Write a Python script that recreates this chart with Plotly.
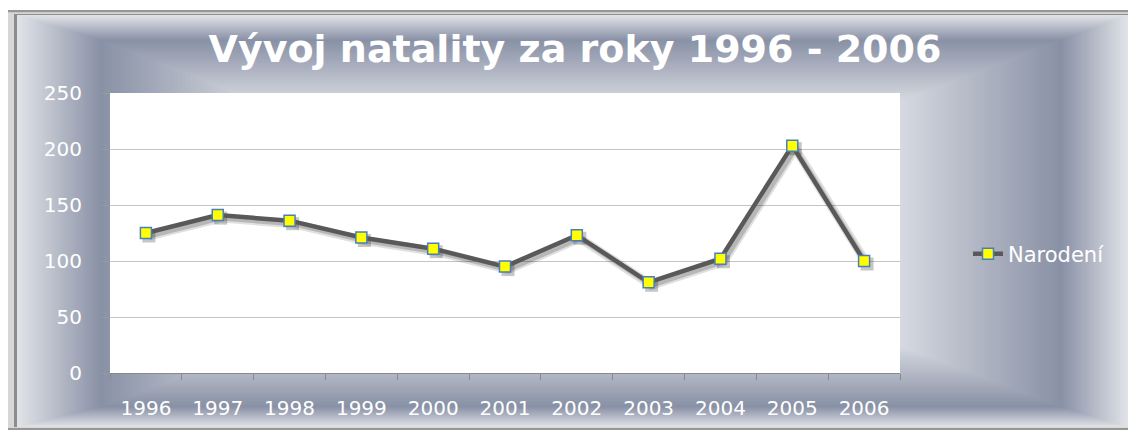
import plotly.graph_objects as go

# ---- data ----
years = ["1996", "1997", "1998", "1999", "2000", "2001", "2002", "2003", "2004", "2005", "2006"]
births = [125, 141, 136, 121, 111, 95, 123, 81, 102, 203, 100]
series_name = "Narodení"
title_text = "Vývoj natality za roky 1996 - 2006"
y_ticks = [0, 50, 100, 150, 200, 250]

# ---- geometry (page pixels; the page body has an 8px margin) ----
OFF = 8
W, H = 1136 - OFF, 433 - OFF
PL, PR, PT, PB = 110, 900, 93, 373          # plot area in page pixels
ML, MT = PL - OFF, PT - OFF
MR, MB = W - (PR - OFF), H - (PB - OFF)
PW, PH = PR - PL, PB - PT


def px(x):
    return (x - PL) / PW


def py(y):
    return (PB - y) / PH


def mix(c1, c2, f):
    f = max(0.0, min(1.0, f))
    return "rgb(%d,%d,%d)" % tuple(round(a + (b - a) * f) for a, b in zip(c1, c2))


LIGHT = (224, 226, 231)
DARK = (137, 145, 166)

shapes = []


def rect(x0, y0, x1, y1, color):
    shapes.append(dict(type="rect", xref="paper", yref="paper",
                       x0=px(x0), x1=px(x1), y0=py(y1), y1=py(y0),
                       fillcolor=color, line=dict(width=0), layer="below"))


# outer border
shapes.append(dict(type="rect", xref="paper", yref="paper",
                   x0=px(5), x1=px(1131), y0=py(429), y1=py(11),
                   fillcolor="rgb(200,200,200)", line=dict(color="rgb(150,150,150)", width=2),
                   layer="below"))
rect(8, 13, 1129, 428, "rgb(215,215,215)")
rect(14, 14, 1128, 427, "rgb(140,140,140)")

# outer bevel strip: light -> dark
O = (17, 15, 1128, 427)
D = (100, 40, 1062, 407)
N = 40
for k in range(N):
    u = k / N
    x0 = O[0] + (D[0] - O[0]) * u
    y0 = O[1] + (D[1] - O[1]) * u
    x1 = O[2] + (D[2] - O[2]) * u
    y1 = O[3] + (D[3] - O[3]) * u
    rect(x0, y0, x1, y1, mix(LIGHT, DARK, u))

# inner path gradient: dark -> light toward the centre
cx, cy = (D[0] + D[2]) / 2, (D[1] + D[3]) / 2
hw, hh = (D[2] - D[0]) / 2, (D[3] - D[1]) / 2
M = 40
t_light = 0.66
for k in range(M + 1):
    t = 1 - (1 - t_light) * k / M
    f = (1 - t) / (1 - t_light)
    rect(cx - hw * t, cy - hh * t, cx + hw * t, cy + hh * t, mix(DARK, (216, 219, 225), f))

# plot area
shapes.append(dict(type="rect", xref="paper", yref="paper", x0=0, x1=1, y0=0, y1=1,
                   fillcolor="white", line=dict(width=0), layer="below"))

fig = go.Figure()

# shadow traces (on shifted, hidden axes x/y)
fig.add_trace(go.Scatter(x=years, y=births, mode="lines", xaxis="x", yaxis="y",
                         line=dict(color="rgba(0,0,0,0.12)", width=9),
                         showlegend=False, hoverinfo="skip"))
fig.add_trace(go.Scatter(x=years, y=births, mode="lines+markers", xaxis="x", yaxis="y",
                         line=dict(color="rgba(0,0,0,0.18)", width=5),
                         marker=dict(symbol="square", size=13, color="rgba(0,0,0,0.22)",
                                     line=dict(width=0)),
                         showlegend=False, hoverinfo="skip"))

# main series (on visible axes x2/y2)
fig.add_trace(go.Scatter(x=years, y=births, name=series_name, mode="lines+markers",
                         xaxis="x2", yaxis="y2",
                         line=dict(color="#595959", width=4.5),
                         marker=dict(symbol="square", size=11, color="#ffff00",
                                     line=dict(color="#4a7ebb", width=1.5))))

sx = 3 / (PW / 11)
sy = 3 / (PH / 250)

font_family = "DejaVu Sans"
fig.update_layout(
    width=W, height=H,
    margin=dict(l=ML, r=MR, t=MT, b=MB),
    paper_bgcolor="white",
    plot_bgcolor="white",
    shapes=shapes,
    title=dict(text=title_text, x=px(575), xanchor="center",
               y=1 - (49 - OFF) / H, yanchor="middle",
               xref="paper", yref="container",
               font=dict(family=font_family, size=38, color="white", weight="bold")),
    xaxis=dict(type="category", range=[-0.5 - sx, 10.5 - sx], visible=False, fixedrange=True),
    yaxis=dict(range=[sy, 250 + sy], visible=False, fixedrange=True),
    xaxis2=dict(type="category", overlaying="x", anchor="y2", side="bottom",
                range=[-0.5, 10.5], tickson="boundaries", ticks="outside", ticklen=6,
                tickcolor="#8a8a8a", showline=True, linecolor="#8a8a8a", linewidth=1,
                showgrid=False, ticklabelstandoff=17,
                tickfont=dict(family=font_family, size=20, color="white")),
    yaxis2=dict(overlaying="y", anchor="x2", side="left", range=[0, 250],
                tickvals=y_ticks, ticks="outside", ticklen=7, tickcolor="#9a9a9a",
                showgrid=True, gridcolor="#c4c4c4", gridwidth=1, zeroline=False,
                showline=False, ticklabelstandoff=16,
                tickfont=dict(family=font_family, size=20, color="white")),
    legend=dict(x=px(968), xanchor="left", y=py(254), yanchor="middle",
                bgcolor="rgba(0,0,0,0)", borderwidth=0,
                font=dict(family=font_family, size=21, color="white")),
    showlegend=True,
)

fig.write_html("out.html")
